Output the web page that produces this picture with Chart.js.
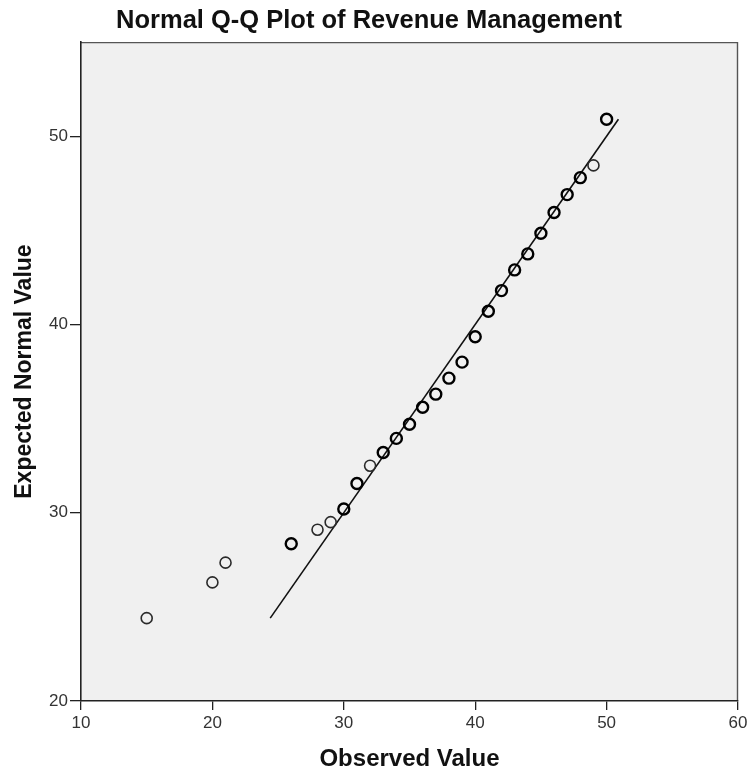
<!DOCTYPE html>
<html>
<head>
<meta charset="utf-8">
<script src="https://cdn.jsdelivr.net/npm/chart.js@4/dist/chart.umd.min.js"></script>
<style>
  html, body { margin: 0; padding: 0; background: #ffffff; }
  #wrap { width: 747px; height: 773px; position: relative; }
</style>
</head>
<body>
<div id="wrap"><canvas id="c" width="747" height="773"></canvas></div>
<script>
// ---- data ----
const chartTitle = 'Normal Q-Q Plot of Revenue Management';
const xAxisTitle = 'Observed Value';
const yAxisTitle = 'Expected Normal Value';
const observed = [15, 20, 21, 26, 28, 29, 30, 31, 32, 33, 34, 35, 36, 37, 38, 39, 40, 41, 42, 43, 44, 45, 46, 47, 48, 49, 50];
const expected = [24.4, 26.3, 27.35, 28.35, 29.1, 29.5, 30.2, 31.55, 32.5, 33.2, 33.95, 34.7, 35.6, 36.3, 37.15, 38.0, 39.35, 40.7, 41.8, 42.9, 43.75, 44.85, 45.95, 46.9, 47.8, 48.45, 50.9];
// observed values that occur only once (drawn with a thinner circle)
const singleObservations = [15, 20, 21, 28, 29, 32, 49];
const refLineX = [24.4, 50.9];
const refLineY = [24.4, 50.9];
const xTicks = [10, 20, 30, 40, 50, 60];
const yTicks = [20, 30, 40, 50];

const pointData = observed.map((x, i) => ({ x: x, y: expected[i] }));
const lineData = refLineX.map((x, i) => ({ x: x, y: refLineY[i] }));

const FONT = "'Liberation Sans', Arial, sans-serif";

const plotBg = {
  id: 'plotBg',
  beforeDraw(chart) {
    const { ctx, chartArea: a } = chart;
    ctx.save();
    ctx.fillStyle = '#f0f0f0';
    ctx.fillRect(a.left, a.top, a.right - a.left, a.bottom - a.top);
    ctx.strokeStyle = '#555';
    ctx.lineWidth = 1.4;
    ctx.beginPath();
    ctx.moveTo(a.left, a.top + 0.5);
    ctx.lineTo(a.right - 0.5, a.top + 0.5);
    ctx.lineTo(a.right - 0.5, a.bottom);
    ctx.stroke();
    ctx.restore();
  }
};

new Chart(document.getElementById('c'), {
  type: 'scatter',
  data: {
    datasets: [
      {
        type: 'line',
        data: lineData,
        borderColor: '#111',
        borderWidth: 1.6,
        pointRadius: 0,
        fill: false,
        order: 2
      },
      {
        type: 'scatter',
        data: pointData,
        pointStyle: 'circle',
        pointRadius: 5.5,
        pointBackgroundColor: 'rgba(0,0,0,0)',
        pointBorderColor: ctx => singleObservations.includes(ctx.raw && ctx.raw.x) ? '#2a2a2a' : '#000',
        pointBorderWidth: ctx => singleObservations.includes(ctx.raw && ctx.raw.x) ? 1.6 : 2.4,
        order: 1
      }
    ]
  },
  options: {
    responsive: false,
    animation: false,
    devicePixelRatio: 1,
    layout: { padding: { left: 0, right: 9, top: 0, bottom: 0 } },
    plugins: {
      legend: { display: false },
      tooltip: { enabled: false },
      title: {
        display: true,
        text: chartTitle,
        color: '#111',
        font: { family: FONT, size: 25.5, weight: 'bold', lineHeight: 1.2 },
        padding: { top: 6, bottom: 5.5 }
      }
    },
    scales: {
      x: {
        type: 'linear',
        min: 10,
        max: 60,
        afterBuildTicks: s => { s.ticks = xTicks.map(v => ({ value: v })); },
        afterFit: s => { s.height = 72; s.paddingRight = 0; s.paddingLeft = 0; },
        grid: { drawOnChartArea: false, drawTicks: true, tickLength: 9, color: '#222', lineWidth: 1.3 },
        border: { color: '#222', width: 1.6 },
        ticks: {
          color: '#333',
          padding: 3,
          font: { family: FONT, size: 17 }
        },
        title: {
          display: true,
          text: xAxisTitle,
          color: '#111',
          font: { family: FONT, size: 24, weight: 'bold', lineHeight: 1.1 },
          padding: 0
        }
      },
      y: {
        type: 'linear',
        min: 20,
        max: 55,
        afterBuildTicks: s => { s.ticks = yTicks.map(v => ({ value: v })); },
        afterFit: s => { s.width = 81; },
        grid: { drawOnChartArea: false, drawTicks: true, tickLength: 11, color: '#222', lineWidth: 1.3 },
        border: { color: '#222', width: 1.6 },
        ticks: {
          color: '#333',
          padding: 2,
          font: { family: FONT, size: 17 }
        },
        title: {
          display: true,
          text: yAxisTitle,
          color: '#111',
          font: { family: FONT, size: 23, weight: 'bold', lineHeight: 1.2 },
          padding: 11.2
        }
      }
    }
  },
  plugins: [plotBg]
});
</script>
</body>
</html>
